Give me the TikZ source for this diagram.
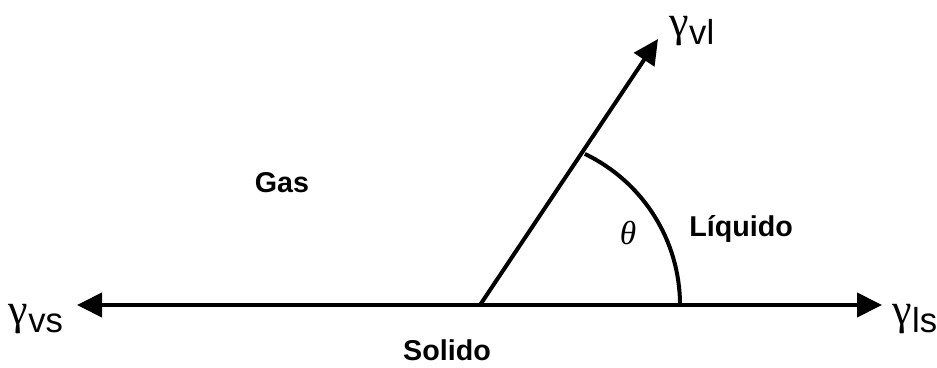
\documentclass[tikz,border=0pt]{standalone}
\usepackage{fontspec}
\setmainfont{Liberation Sans}
\newfontfamily\gfont{Liberation Serif}
\usetikzlibrary{arrows.meta, positioning}
\tikzset{
    fuerza/.style={line width=3pt, -{Triangle[length=18.75pt,width=18pt]}},
    rotulo/.style={font=\bfseries\fontsize{21.5}{24}\selectfont, anchor=base, inner sep=0pt},
    tensup/.style={inner sep=0pt}
}
\newcommand{\tens}[1]{{\gfont\fontsize{33}{33}\selectfont γ}\raisebox{-6pt}{\fontsize{26}{26}\selectfont #1}}

\begin{document}
\begin{tikzpicture}[x=0.75pt, y=0.75pt]
    \useasboundingbox (0,0) rectangle (937,367);
    \coordinate (contacto) at (480,62);
    \coordinate (izq) at (77,62);
    \coordinate (der) at (882,62);
    \coordinate (sup) at (658,328);
    \coordinate (arcoini) at (680,62);
    \draw[fuerza] (contacto) -- (izq);
    \draw[fuerza] (contacto) -- (der);
    \draw[fuerza] (contacto) -- (sup);
    \draw[line width=3pt] (arcoini) arc[start angle=0, end angle=64.4, radius=167.5];
    \node[tensup] (gvs) at (36,47.5) {\tens{vs}};
    \node[tensup] (gls) at (915,47.5) {\tens{ls}};
    \node[tensup] (gvl) at (692,336) {\tens{vl}};
    \node[rotulo] (gas) at (282,174) {Gas};
    \node[rotulo] (liquido) at (741,130) {Líquido};
    \node[rotulo] (solido) at (447,7) {Solido};
    \node[inner sep=0pt] (theta) at (628,134) {\gfont\itshape\fontsize{25}{25}\selectfont θ};
\end{tikzpicture}
\end{document}
